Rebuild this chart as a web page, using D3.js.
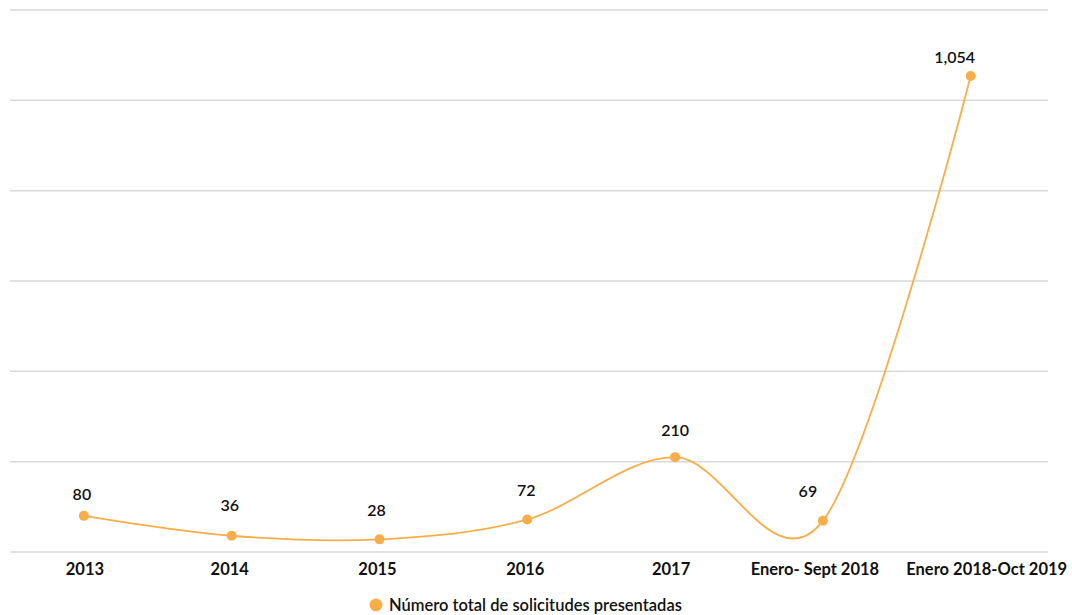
<!DOCTYPE html>
<html><head><meta charset="utf-8">
<script src="https://cdn.jsdelivr.net/npm/d3@7"></script>
<style>body{margin:0;background:#fff}svg{display:block}</style>
</head><body>
<svg id="c" width="1072" height="615"></svg>
<script>
const categories = ["2013","2014","2015","2016","2017","Enero- Sept 2018","Enero 2018-Oct 2019"];
const values = [80,36,28,72,210,69,1054];
const valueLabels = ["80","36","28","72","210","69","1,054"];
const yTicks = [0,200,400,600,800,1000,1200];
const seriesName = "Número total de solicitudes presentadas";

const W=1072,H=615;
const m={l:10,r:24,t:10,b:63};
const svg=d3.select("#c");
const x=d3.scaleBand().domain(categories).range([10,1044.6]).padding(0);
const y=d3.scaleLinear().domain([0,1200]).range([H-m.b,m.t]);
const color="#f8ae48";
const font="Lato, 'Open Sans', sans-serif";

svg.append("g").selectAll("line").data(yTicks).join("line")
  .attr("x1",m.l).attr("x2",W-m.r)
  .attr("y1",d=>y(d)).attr("y2",d=>y(d))
  .attr("stroke","#d9d9d9").attr("stroke-width",1.5);

const tickDx=[1,-2,-2,-2,-4,-8,16];
const xa=svg.append("g").attr("transform",`translate(0,${H-m.b})`)
  .call(d3.axisBottom(x).tickSize(0).tickPadding(11));
xa.select(".domain").remove();
xa.selectAll("text").attr("font-family",font).attr("font-size",16.5).attr("font-weight",700).attr("fill","#111")
  .attr("dx",(d,i)=>tickDx[i]);

const cx=d=>x(d)+x.bandwidth()/2;
const pts=categories.map((c,i)=>[cx(c),y(values[i])]);
svg.append("path").datum(pts)
  .attr("d",d3.line().curve(d3.curveCatmullRom.alpha(0)))
  .attr("fill","none").attr("stroke",color).attr("stroke-width",1.8);

svg.append("g").selectAll("circle").data(pts).join("circle")
  .attr("cx",d=>d[0]).attr("cy",d=>d[1]).attr("r",5).attr("fill",color);

const labelDx=[-2,-2,-3,-1,0,-15,-16];
const labelDy=[-21,-30,-29,-29,-27,-29,-19];
svg.append("g").selectAll("text").data(valueLabels).join("text")
  .attr("x",(d,i)=>pts[i][0]+labelDx[i]).attr("y",(d,i)=>pts[i][1]+labelDy[i])
  .attr("dy","0.35em").attr("text-anchor","middle")
  .attr("font-family",font).attr("font-size",16).attr("font-weight",600).attr("fill","#111")
  .text(d=>d);

const lg=svg.append("g").attr("transform","translate(376,605)");
lg.append("circle").attr("r",6.5).attr("fill",color);
lg.append("text").attr("x",13).attr("dy","0.35em")
  .attr("font-family",font).attr("font-size",16.5).attr("font-weight",600).attr("fill","#111")
  .text(seriesName);
</script>
</body></html>
